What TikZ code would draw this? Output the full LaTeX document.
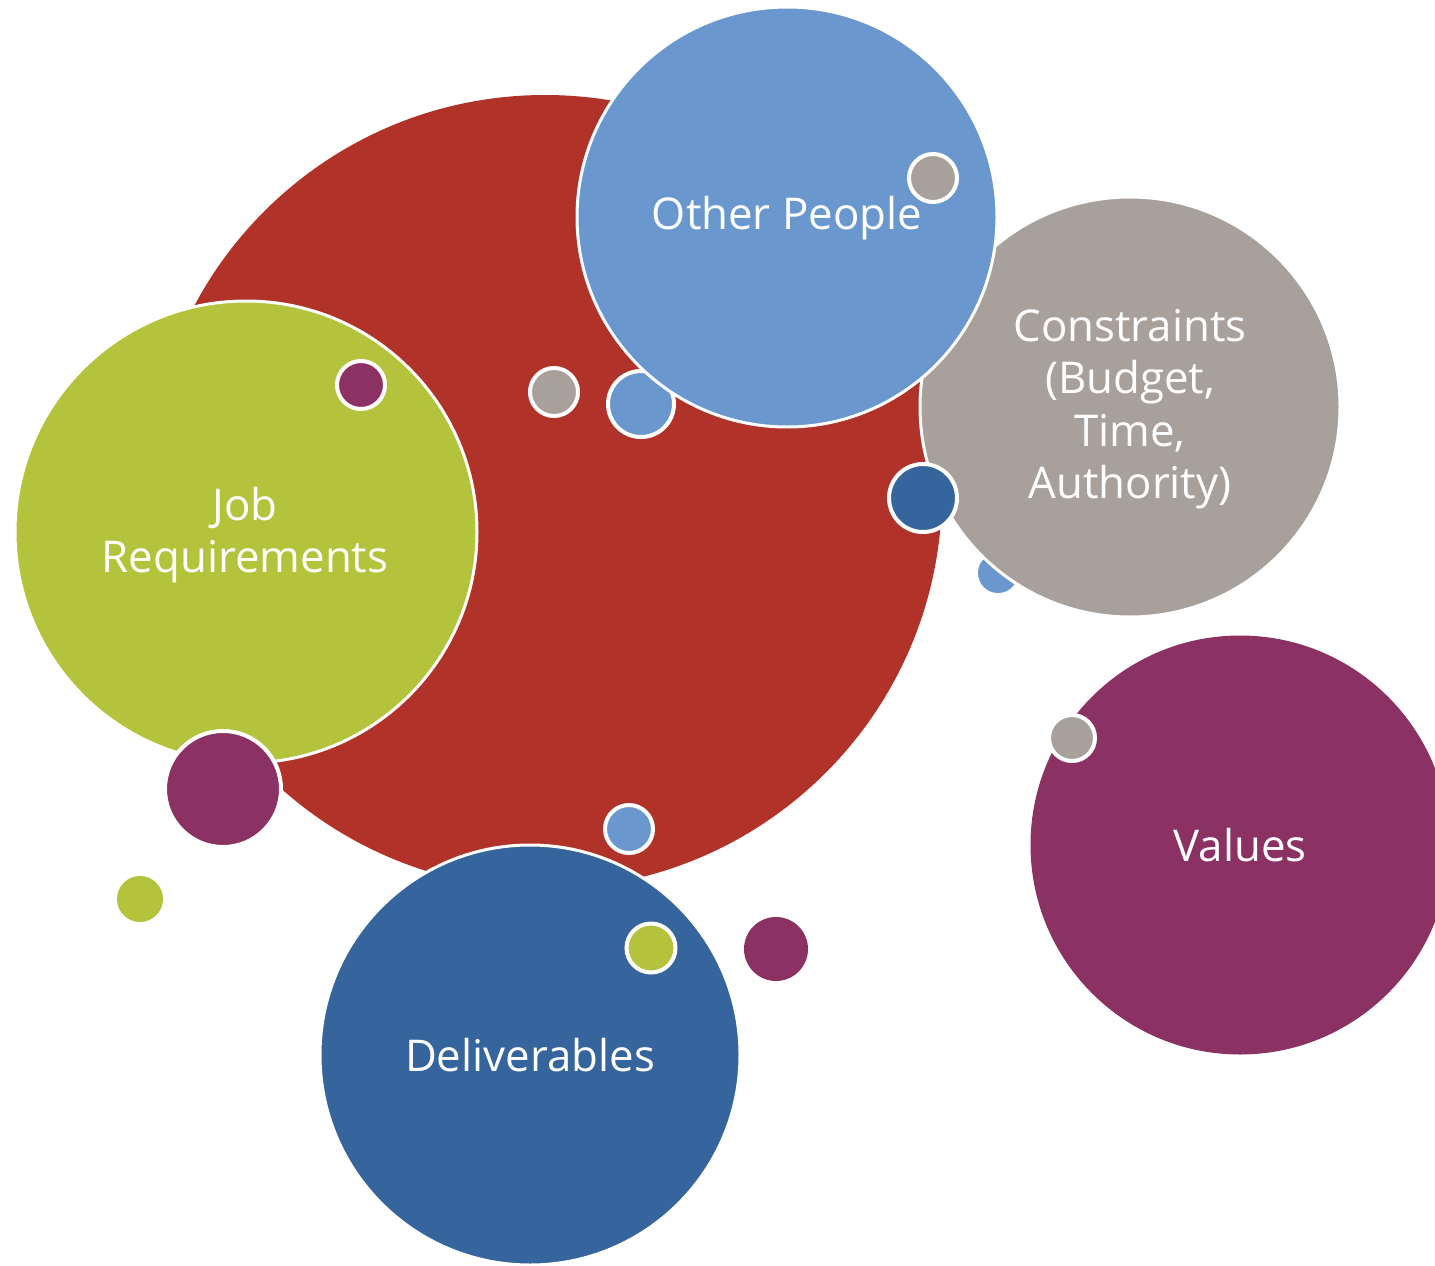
\documentclass[tikz,border=0pt]{standalone}
\usepackage{fontspec}
\setmainfont{Open Sans}
\definecolor{cred}{HTML}{B03228}
\definecolor{clblue}{HTML}{6A98CE}
\definecolor{cgray}{HTML}{A8A09A}
\definecolor{cgreen}{HTML}{B3C43C}
\definecolor{cpurple}{HTML}{8B3163}
\definecolor{cdblue}{HTML}{36649C}
\newcommand{\bubfont}{\fontsize{43.8}{52.5}\selectfont}
\tikzset{
  big/.style={circle, inner sep=0pt, draw=white, line width=3pt, text=white, align=center, font=\bubfont},
  dot/.style={circle, inner sep=0pt, draw=white, line width=4pt},
  bare/.style={circle, inner sep=0pt, draw=none}
}
\begin{document}
\begin{tikzpicture}[x=1pt,y=-1pt]
\useasboundingbox (0,0) rectangle (1435,1266);
% central red bubble
\node[bare, fill=cred, minimum size=794pt] (core) at (545,492) {};
\node[dot, fill=cgray, minimum size=48pt] (d1) at (554,392) {};
\node[dot, fill=clblue, minimum size=66pt] (d2) at (641,404) {};
\node[bare, fill=clblue, minimum size=40pt] (d3) at (998,573) {};
% constraints
\node[big, fill=cgray, minimum size=420pt] (cons) at (1130,407) {};
\node[text=white, align=center, font=\bubfont] (constxt) at (1130,409) {Constraints\\(Budget,\\Time,\\Authority)};
% other people
\node[big, fill=clblue, minimum size=420pt] (other) at (787,217) {};
\node[text=white, font=\bubfont] (othertxt) at (787,218) {Other People};
\node[dot, fill=cgray, minimum size=48pt] (d4) at (933,178) {};
\node[dot, fill=cdblue, minimum size=68pt] (d5) at (923,498) {};
% job requirements
\node[big, fill=cgreen, minimum size=462pt] (job) at (246,532) {};
\node[text=white, align=center, font=\bubfont] (jobtxt) at (245,535) {Job\\Requirements};
\node[dot, fill=cpurple, minimum size=48pt] (d6) at (361,385) {};
\node[dot, fill=cpurple, minimum size=116pt] (d7) at (223,789) {};
\node[bare, fill=cgreen, minimum size=46pt] (d8) at (140,899) {};
% deliverables
\node[big, fill=cdblue, minimum size=420pt, font=\bubfont] (deliv) at (530,1055) {Deliverables};
\node[dot, fill=clblue, minimum size=48pt] (d9) at (629,829) {};
\node[dot, fill=cgreen, minimum size=49pt] (d10) at (651,948) {};
\node[bare, fill=cpurple, minimum size=64pt] (d11) at (776,949) {};
% values
\node[bare, fill=cpurple, minimum size=419pt, text=white, font=\bubfont] (values) at (1240,845) {Values};
\node[dot, fill=cgray, minimum size=46pt] (d12) at (1072,738) {};
\end{tikzpicture}
\end{document}
